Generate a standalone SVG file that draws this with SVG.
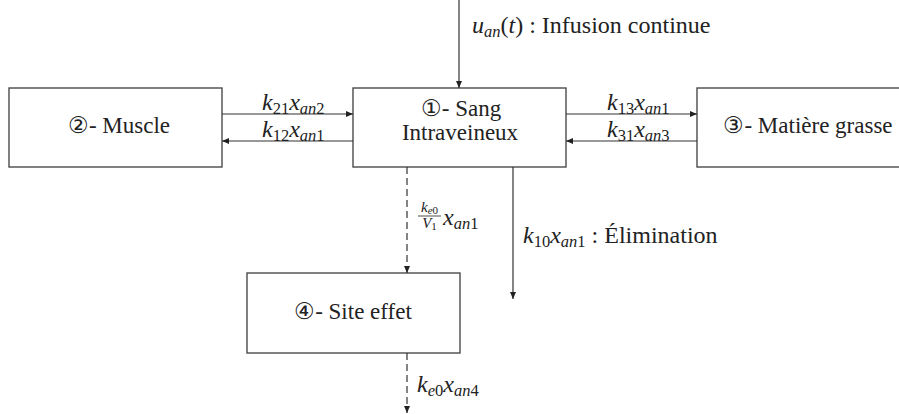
<svg xmlns="http://www.w3.org/2000/svg" width="899" height="414" viewBox="0 0 899 414">
<style>
.box{fill:#fff;stroke:#4a4a4a;stroke-width:1.4}
.ln{fill:none;stroke:#333;stroke-width:1.2}
.dash{stroke-dasharray:7,4}
text{font-family:'Liberation Serif',serif;font-size:23px;fill:#222}
.m{font-size:24px}
.i{font-style:italic}
.s{font-size:16.5px}
.f{font-size:15px}
.ff{font-size:11px}
</style>
<defs>
<marker id="ah" markerWidth="8" markerHeight="6" refX="7" refY="3" orient="auto" markerUnits="userSpaceOnUse">
<path d="M0,0 L7,3 L0,6 z" fill="#222"/>
</marker>
</defs>
<rect width="899" height="414" fill="#fff"/>
<g id="n2"><rect class="box" x="9" y="88" width="213" height="79"/><text x="119" y="133" text-anchor="middle">②- Muscle</text></g>
<g id="n1"><rect class="box" x="353" y="88" width="213" height="79"/><text x="461" y="116" text-anchor="middle">①- Sang</text><text x="460" y="140" text-anchor="middle">Intraveineux</text></g>
<g id="n3"><rect class="box" x="697" y="88" width="222" height="79"/><text x="808" y="133" text-anchor="middle">③- Matière grasse</text></g>
<g id="n4"><rect class="box" x="247" y="273" width="213" height="80"/><text x="353" y="319" text-anchor="middle">④- Site effet</text></g>
<g id="connectors">
<line class="ln" x1="459" y1="0" x2="459" y2="88" marker-end="url(#ah)"/>
<line class="ln" x1="222" y1="114" x2="353" y2="114" marker-end="url(#ah)"/>
<line class="ln" x1="353" y1="141" x2="222" y2="141" marker-end="url(#ah)"/>
<line class="ln" x1="566" y1="114" x2="697" y2="114" marker-end="url(#ah)"/>
<line class="ln" x1="697" y1="141" x2="566" y2="141" marker-end="url(#ah)"/>
<line class="ln dash" x1="407" y1="167" x2="407" y2="273" marker-end="url(#ah)"/>
<line class="ln" x1="513" y1="167" x2="513" y2="299" marker-end="url(#ah)"/>
<line class="ln dash" x1="407" y1="353" x2="407" y2="413" marker-end="url(#ah)"/>
<text class="m" x="472" y="33"><tspan class="i">u</tspan><tspan class="s i" dy="4">an</tspan><tspan dy="-4">(</tspan><tspan class="i">t</tspan><tspan>) : Infusion continue</tspan></text>
<text class="m" x="262" y="110"><tspan class="i">k</tspan><tspan class="s" dy="4">21</tspan><tspan class="i" dy="-4">x</tspan><tspan class="s i" dy="4">an</tspan><tspan class="s">2</tspan></text>
<text class="m" x="262" y="137"><tspan class="i">k</tspan><tspan class="s" dy="4">12</tspan><tspan class="i" dy="-4">x</tspan><tspan class="s i" dy="4">an</tspan><tspan class="s">1</tspan></text>
<text class="m" x="607" y="110"><tspan class="i">k</tspan><tspan class="s" dy="4">13</tspan><tspan class="i" dy="-4">x</tspan><tspan class="s i" dy="4">an</tspan><tspan class="s">1</tspan></text>
<text class="m" x="607" y="137"><tspan class="i">k</tspan><tspan class="s" dy="4">31</tspan><tspan class="i" dy="-4">x</tspan><tspan class="s i" dy="4">an</tspan><tspan class="s">3</tspan></text>
<text x="429.5" y="212" text-anchor="middle" class="f"><tspan class="i">k</tspan><tspan class="ff" dy="2"><tspan class="i">e</tspan>0</tspan></text>
<line x1="418" y1="216" x2="441" y2="216" stroke="#222" stroke-width="0.8"/>
<text x="429.5" y="228" text-anchor="middle" class="f"><tspan class="i">V</tspan><tspan class="ff" dy="2">1</tspan></text>
<text class="m" x="443" y="225"><tspan class="i">x</tspan><tspan class="s i" dy="4">an</tspan><tspan class="s">1</tspan></text>
<text class="m" x="523" y="243"><tspan class="i">k</tspan><tspan class="s" dy="4">10</tspan><tspan class="i" dy="-4">x</tspan><tspan class="s i" dy="4">an</tspan><tspan class="s">1</tspan><tspan dy="-4"> : Élimination</tspan></text>
<text class="m" x="417" y="392"><tspan class="i">k</tspan><tspan class="s" dy="4"><tspan class="i">e</tspan>0</tspan><tspan class="i" dy="-4">x</tspan><tspan class="s i" dy="4">an</tspan><tspan class="s">4</tspan></text>
</g>
</svg>
